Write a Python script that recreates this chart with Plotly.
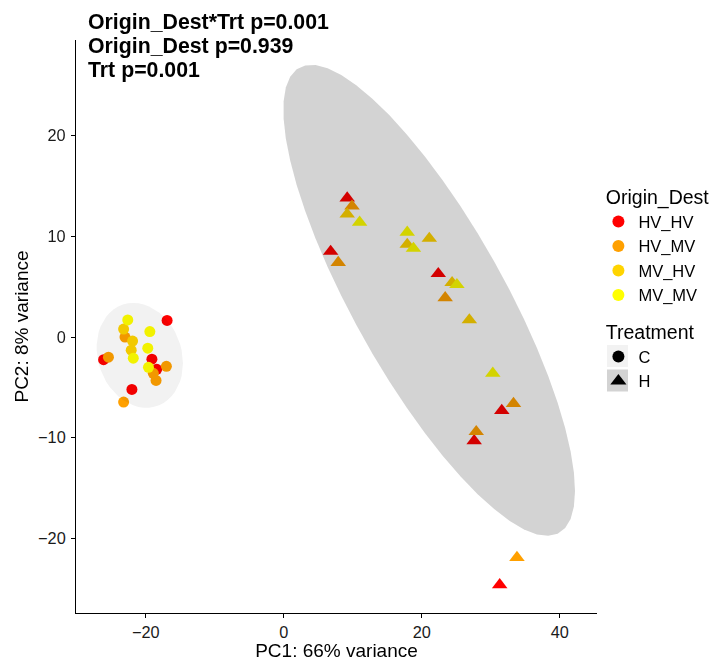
import numpy as np
import plotly.graph_objects as go

# PCA scores per sample
pc1 = [
    # Treatment C
    -16.9, -26.1, -19.1, -18.4, -22.0,
    -23.0, -25.4, -17.0, -18.9, -18.5, -23.2,
    -23.2, -21.9, -22.1,
    -22.6, -19.4, -19.7, -21.8, -19.6,
    # Treatment H
    9.2, 6.8, 22.4, 31.6, 27.6, 31.3,
    9.9, 7.9, 23.4, 33.3, 27.9, 33.8,
    9.2, 21.1, 17.9, 24.4, 26.9,
    11.0, 17.9, 18.8, 25.1, 30.3,
]
pc2 = [
    1.65, -2.25, -2.2, -3.2, -5.2,
    0.0, -2.0, -2.9, -3.6, -4.3, -6.45,
    0.8, -0.4, -1.3,
    1.7, 0.55, -1.1, -2.1, -3.0,
    13.8, 8.5, 6.3, -7.3, -10.3, -24.6,
    13.0, 7.4, 3.9, -6.6, -9.4, -21.9,
    12.2, 9.8, 9.2, 5.4, 1.7,
    11.4, 10.4, 8.8, 5.2, -3.6,
]
origin_dest = (
    ["HV_HV"] * 5 + ["HV_MV"] * 6 + ["MV_HV"] * 3 + ["MV_MV"] * 5
    + ["HV_HV"] * 6 + ["HV_MV"] * 6 + ["MV_HV"] * 5 + ["MV_MV"] * 5
)
treatment = ["C"] * 19 + ["H"] * 22

origin_levels = ["HV_HV", "HV_MV", "MV_HV", "MV_MV"]
origin_colors = ["#FF0000", "#FFA000", "#FFD400", "#FFFF00"]
treat_levels = ["C", "H"]
treat_symbols = ["circle", "triangle-up"]
treat_fills = ["#F2F2F2", "#D3D3D3"]

title_lines = ["Origin_Dest*Trt p=0.001", "Origin_Dest p=0.939", "Trt p=0.001"]

pc1 = np.array(pc1)
pc2 = np.array(pc2)
origin_dest = np.array(origin_dest)
treatment = np.array(treatment)

FONT = "Liberation Sans, Arial, Helvetica, sans-serif"

# plot geometry (pixels)
W, H = 716, 661
ML, MR, MT, MB = 76, 119, 40, 48
PW, PH = W - ML - MR, H - MT - MB


def px_to_paper(x, y):
    return (x - ML) / PW, (H - MB - y) / PH


def cov_trob(pts, nu=5, maxit=25, tol=0.01):
    """Robust multivariate-t location/scatter (as MASS::cov.trob)."""
    x = np.asarray(pts, float)
    n, p = x.shape
    loc = x.mean(axis=0)
    w = np.ones(n)
    X = x - loc
    for _ in range(maxit):
        w0 = w
        X = x - loc
        _, d, vt = np.linalg.svd(np.sqrt(w / w.sum())[:, None] * X, full_matrices=False)
        wX = X @ vt.T @ np.diag(1.0 / d)
        Q = (wX ** 2).sum(axis=1)
        w = (nu + p) / (nu + Q)
        loc = (w[:, None] * x).sum(axis=0) / w.sum()
        if np.all(np.abs(w - w0) < tol):
            break
    sw = np.sqrt(w)[:, None] * X
    return loc, sw.T @ sw / n


def t_ellipse(xs, ys, level=0.95, segments=51):
    pts = np.column_stack([xs, ys])
    center, shape = cov_trob(pts)
    dfd = len(xs) - 1
    qf = dfd / 2.0 * ((1 - level) ** (-2.0 / dfd) - 1)  # F(2, dfd) quantile
    radius = np.sqrt(2 * qf)
    ang = np.arange(segments + 1) * 2 * np.pi / segments
    circle = np.column_stack([np.cos(ang), np.sin(ang)])
    R = np.linalg.cholesky(shape).T
    ell = center + radius * circle @ R
    return ell[:, 0], ell[:, 1]


fig = go.Figure()

# sample points
for t, sym in zip(treat_levels, treat_symbols):
    for o, col in zip(origin_levels, origin_colors):
        m = (treatment == t) & (origin_dest == o)
        fig.add_trace(go.Scatter(
            x=pc1[m], y=pc2[m], mode="markers", showlegend=False,
            marker=dict(symbol=sym, color=col, size=11 if sym == "circle" else 13.5,
                        line=dict(width=0)),
            hoverinfo="skip",
        ))

# 95% t-ellipses per treatment, blended over the points
for t, fillc in zip(treat_levels, treat_fills):
    m = treatment == t
    ex, ey = t_ellipse(pc1[m], pc2[m])
    fig.add_trace(go.Scatter(
        x=ex, y=ey, mode="lines", fill="toself", fillcolor=fillc,
        line=dict(width=0), showlegend=False, hoverinfo="skip",
    ))

# legend entries: Origin_Dest colours
for o, col in zip(origin_levels, origin_colors):
    fig.add_trace(go.Scatter(
        x=[None], y=[None], mode="markers", name=o, legend="legend",
        marker=dict(symbol="circle", color=col, size=12),
    ))
# legend entries: Treatment shapes
for t, sym in zip(treat_levels, treat_symbols):
    fig.add_trace(go.Scatter(
        x=[None], y=[None], mode="markers", name=t, legend="legend2",
        marker=dict(symbol=sym, color="black", size=12 if sym == "circle" else 14),
    ))

LEG_LEFT = 598.4
LEG1_TOP = 179
LEG2_TOP = 314
ITEM_FONT = 16.5
TITLE_FONT = 19.5

# key backgrounds for the Treatment legend
shapes = []
for cy, fillc in zip([356.0, 380.5], treat_fills):
    x0, y0 = px_to_paper(607.0, cy + 11.0)
    x1, y1 = px_to_paper(628.0, cy - 11.0)
    shapes.append(dict(type="rect", xref="paper", yref="paper", x0=x0, x1=x1,
                       y0=y0, y1=y1, fillcolor=fillc, line=dict(width=0), layer="above"))

# stacked model p-values
annotations = []
for i, txt in enumerate(title_lines):
    annotations.append(dict(
        text=txt, xref="paper", yref="paper", x=0, y=1, xanchor="left", yanchor="middle",
        xshift=9.5, yshift=17.7 - 24.0 * i, showarrow=False,
        font=dict(family=FONT, size=21.3, color="black", weight="bold"),
    ))

axis_common = dict(
    showgrid=False, zeroline=False, showline=True, linecolor="black", linewidth=1.1,
    ticks="outside", ticklen=4, tickwidth=1.1, tickcolor="black",
    tickfont=dict(family=FONT, size=16.3, color="#1a1a1a"),
    title_font=dict(family=FONT, size=19, color="black"),
)

lx, ly = px_to_paper(LEG_LEFT, LEG1_TOP)
l2x, l2y = px_to_paper(LEG_LEFT, LEG2_TOP)

fig.update_layout(
    width=W, height=H,
    margin=dict(l=ML, r=MR, t=MT, b=MB, autoexpand=False),
    paper_bgcolor="white", plot_bgcolor="white",
    font=dict(family=FONT, color="black"),
    xaxis=dict(range=[-30.1, 45.4], tickvals=[-20, 0, 20, 40], ticklabelstandoff=0,
               automargin=False, title=dict(text="PC1: 66% variance"), **axis_common),
    yaxis=dict(range=[-27.4, 29.5], tickvals=[-20, -10, 0, 10, 20], ticklabelstandoff=2,
               automargin=True, title=dict(text="PC2: 8% variance", standoff=4),
               **axis_common),
    legend=dict(title=dict(text="\u00a0Origin_Dest", font=dict(family=FONT, size=TITLE_FONT)),
                x=lx, y=ly, xanchor="left", yanchor="top",
                font=dict(family=FONT, size=ITEM_FONT), bgcolor="rgba(0,0,0,0)",
                itemsizing="trace", tracegroupgap=0),
    legend2=dict(title=dict(text="\u00a0Treatment", font=dict(family=FONT, size=TITLE_FONT)),
                 x=l2x, y=l2y, xanchor="left", yanchor="top",
                 font=dict(family=FONT, size=ITEM_FONT), bgcolor="rgba(0,0,0,0)",
                 itemsizing="trace", tracegroupgap=0),
    shapes=shapes,
    annotations=annotations,
)

# ellipse fills multiply onto the markers beneath them
blend_js = """
var gd = document.getElementById('{plot_id}');
gd.querySelectorAll('.scatterlayer .trace path.js-fill').forEach(function (p) {
    p.style.mixBlendMode = 'multiply';
});
"""

fig.write_html("out.html", post_script=blend_js)
